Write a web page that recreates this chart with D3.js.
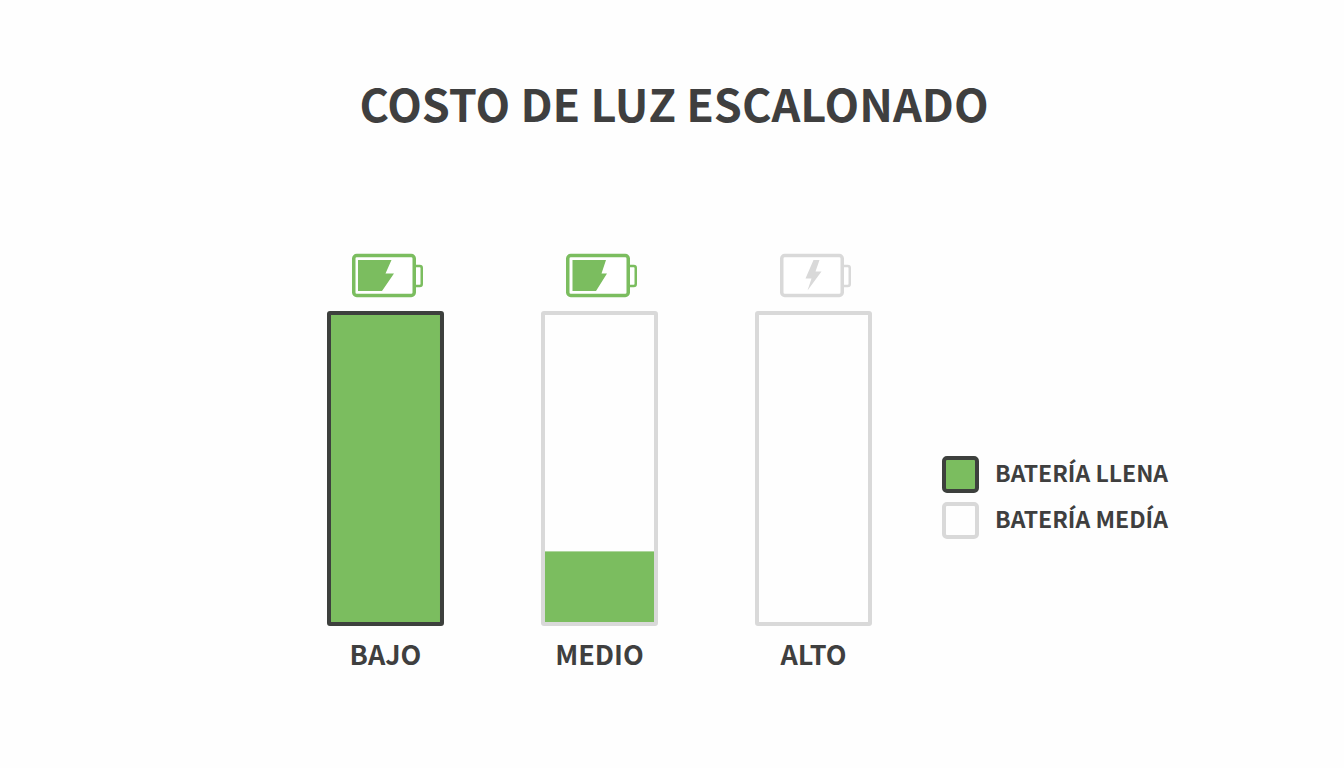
<!DOCTYPE html>
<html lang="es">
<head>
<meta charset="utf-8">
<title>Costo de luz escalonado</title>
<script src="https://cdn.jsdelivr.net/npm/d3@7"></script>
<style>
  html, body { margin: 0; padding: 0; background: #fefefe; }
  svg { display: block; }
  text { font-family: "Noto Sans CJK SC", "Noto Sans", sans-serif; font-weight: 700; fill: #3f3f3f; }
</style>
</head>
<body>
<div id="chart"></div>
<script>
const categories = ["BAJO", "MEDIO", "ALTO"];
const values = [100, 23, 0];
const iconFill = ["full", "half", "none"];
const legendLabels = ["BATERÍA LLENA", "BATERÍA MEDÍA"];

const GREEN = "#7bbd5f", DARK = "#3d403d", LIGHT = "#d9d9d9";
const width = 1344, height = 768;

const svg = d3.select("#chart").append("svg")
  .attr("width", width).attr("height", height);

svg.append("text")
  .attr("x", 674).attr("y", 122)
  .attr("text-anchor", "middle")
  .style("font-size", "45px")
  .text("COSTO DE LUZ ESCALONADO");

const x = d3.scaleBand().domain(categories).range([327, 872]).paddingInner(0.4533).paddingOuter(0);
const y = d3.scaleLinear().domain([0, 100]).range([622, 315]);
const sw = 4;

const bars = svg.selectAll(".bar").data(categories).join("g")
  .attr("class", "bar")
  .attr("transform", d => `translate(${x(d)},0)`);

// fill first, then the outline on top
bars.append("rect")
  .attr("x", sw)
  .attr("width", x.bandwidth() - sw * 2)
  .attr("y", (d, i) => y(values[i]))
  .attr("height", (d, i) => y(0) - y(values[i]))
  .attr("fill", GREEN);

bars.append("rect")
  .attr("x", sw / 2)
  .attr("y", y(100) - sw / 2)
  .attr("width", x.bandwidth() - sw)
  .attr("height", y(0) - y(100) + sw)
  .attr("rx", 1)
  .attr("fill", "none")
  .attr("stroke", (d, i) => values[i] === 100 ? DARK : LIGHT)
  .attr("stroke-width", sw);

bars.append("text")
  .attr("x", x.bandwidth() / 2)
  .attr("y", 665)
  .attr("text-anchor", "middle")
  .style("font-size", "27px")
  .text(d => d);

// battery icons, drawn around the top of each bar
const icons = bars.append("g")
  .attr("transform", `translate(${x.bandwidth() / 2},275.5)`);

const iconStroke = (d, i) => iconFill[i] === "none" ? LIGHT : GREEN;

icons.append("rect")
  .attr("x", 28).attr("y", -9.5).attr("width", 8.25).attr("height", 20).attr("rx", 2)
  .attr("fill", "#fff").attr("stroke", iconStroke).attr("stroke-width", 2.5);

icons.append("rect")
  .attr("x", -31.75).attr("y", -20).attr("width", 60.5).attr("height", 40).attr("rx", 3)
  .attr("fill", "#fff").attr("stroke", iconStroke).attr("stroke-width", 3.5);

const iconShapes = {
  full: "M-27.5,-15.5H6L0,-2H8.5L-3.5,15.5H-27.5Z",
  half: "M-27,-15.5H6.5L2,-2H7.5L-3.5,15.5H-27Z",
  none: "M0,-15.5L-8,3H-2L-6,15L8,-4H2L6,-15.5Z"
};

icons.append("path")
  .attr("d", (d, i) => iconShapes[iconFill[i]])
  .attr("fill", (d, i) => iconFill[i] === "none" ? LIGHT : GREEN);

// legend
const legend = svg.selectAll(".legend").data(legendLabels).join("g")
  .attr("class", "legend")
  .attr("transform", (d, i) => `translate(944,${458 + i * 46})`);

legend.append("rect")
  .attr("width", 33).attr("height", 33).attr("rx", 3)
  .attr("fill", (d, i) => i === 0 ? GREEN : "#fefefe")
  .attr("stroke", (d, i) => i === 0 ? DARK : LIGHT)
  .attr("stroke-width", 4);

legend.append("text")
  .attr("x", 51).attr("y", 24)
  .style("font-size", "23px")
  .text(d => d);
</script>
</body>
</html>
